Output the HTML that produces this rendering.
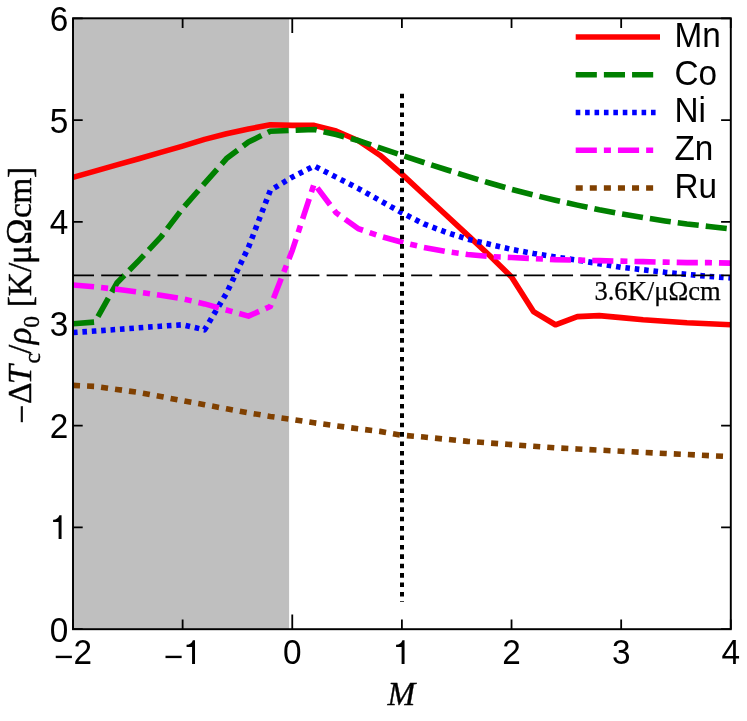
<!DOCTYPE html><html><head><meta charset="utf-8"><style>html,body{margin:0;padding:0;background:#fff}svg{display:block}</style></head><body><svg width="747" height="721" viewBox="0 0 747 721">
<rect width="747" height="721" fill="#fff"/>
<defs><filter id="f" x="0" y="0" width="747" height="721" filterUnits="userSpaceOnUse" color-interpolation-filters="sRGB"><feOffset dx="0" dy="0"/></filter></defs>
<rect x="73.0" y="18.3" width="216.10000000000002" height="610.9000000000001" fill="#bfbfbf"/>
<clipPath id="c"><rect x="73.0" y="18.3" width="657.8" height="610.9000000000001"/></clipPath>
<path d="M73.00,629.2 v-9.7 M73.00,18.3 v9.7" stroke="#000" stroke-width="1.8" fill="none"/>
<path d="M182.63,629.2 v-9.7 M182.63,18.3 v9.7" stroke="#000" stroke-width="1.8" fill="none"/>
<path d="M292.27,629.2 v-14.6 M292.27,18.3 v14.6" stroke="#000" stroke-width="1.8" fill="none"/>
<path d="M401.90,629.2 v-9.7 M401.90,18.3 v9.7" stroke="#000" stroke-width="1.8" fill="none"/>
<path d="M511.53,629.2 v-9.7 M511.53,18.3 v9.7" stroke="#000" stroke-width="1.8" fill="none"/>
<path d="M621.17,629.2 v-9.7 M621.17,18.3 v9.7" stroke="#000" stroke-width="1.8" fill="none"/>
<path d="M730.80,629.2 v-9.7 M730.80,18.3 v9.7" stroke="#000" stroke-width="1.8" fill="none"/>
<path d="M73.0,629.20 h9.7 M730.8,629.20 h-9.7" stroke="#000" stroke-width="1.8" fill="none"/>
<path d="M73.0,527.38 h9.7 M730.8,527.38 h-9.7" stroke="#000" stroke-width="1.8" fill="none"/>
<path d="M73.0,425.57 h9.7 M730.8,425.57 h-9.7" stroke="#000" stroke-width="1.8" fill="none"/>
<path d="M73.0,323.75 h9.7 M730.8,323.75 h-9.7" stroke="#000" stroke-width="1.8" fill="none"/>
<path d="M73.0,221.93 h9.7 M730.8,221.93 h-9.7" stroke="#000" stroke-width="1.8" fill="none"/>
<path d="M73.0,120.12 h9.7 M730.8,120.12 h-9.7" stroke="#000" stroke-width="1.8" fill="none"/>
<path d="M73.0,18.30 h9.7 M730.8,18.30 h-9.7" stroke="#000" stroke-width="1.8" fill="none"/>
<g clip-path="url(#c)" fill="none" stroke-linejoin="round">
<path d="M73.00,177.34 L94.93,171.13 L116.85,164.92 L138.78,158.71 L160.71,152.39 L182.63,146.08 L204.56,139.36 L226.49,133.76 L248.41,128.97 L270.34,124.80 L292.27,125.41 L314.19,125.41 L336.12,131.01 L358.05,140.48 L379.97,155.24 L401.90,174.08 L423.83,194.44 L445.75,214.81 L467.68,235.17 L489.61,255.53 L511.53,276.91 L533.46,311.53 L555.39,324.77 L577.31,316.62 L599.24,315.60 L621.17,317.64 L643.09,319.68 L665.02,321.20 L686.95,322.73 L708.87,323.75 L730.80,324.77" stroke="#ff0000" stroke-width="5.6"/>
<path d="M73.00,323.75 L94.93,322.02 L116.85,283.02 L138.78,260.62 L160.71,237.21 L182.63,208.49 L204.56,183.45 L226.49,158.60 L248.41,142.01 L270.34,131.21 L292.27,130.30 L314.19,129.48 L336.12,134.57 L358.05,140.48 L379.97,147.81 L401.90,155.24 L423.83,162.47 L445.75,169.50 L467.68,176.42 L489.61,183.04 L511.53,189.35 L533.46,194.95 L555.39,200.25 L577.31,205.13 L599.24,209.72 L621.17,213.79 L643.09,217.56 L665.02,220.92 L686.95,223.97 L708.87,226.52 L730.80,228.86" stroke="#008000" stroke-width="5.6" stroke-dasharray="21.14 7.04"/>
<path d="M73.00,332.51 L94.93,331.08 L116.85,329.45 L138.78,327.82 L160.71,326.19 L182.63,324.77 L204.56,329.86 L226.49,293.20 L248.41,247.39 L270.34,190.37 L292.27,177.13 L314.19,165.93 L336.12,177.13 L358.05,188.33 L379.97,200.55 L401.90,212.77 L423.83,223.97 L445.75,232.12 L467.68,239.24 L489.61,244.33 L511.53,249.42 L533.46,253.50 L555.39,257.06 L577.31,260.11 L599.24,263.68 L621.17,267.24 L643.09,269.79 L665.02,272.33 L686.95,274.37 L708.87,276.41 L730.80,277.93" stroke="#0000ff" stroke-width="5.6" stroke-dasharray="4.6 4.81"/>
<path d="M73.00,285.06 L94.93,286.89 L116.85,289.34 L138.78,292.19 L160.71,295.24 L182.63,298.80 L204.56,303.90 L226.49,310.00 L248.41,316.11 L270.34,306.44 L292.27,250.44 L314.19,183.75 L336.12,212.77 L358.05,228.55 L379.97,236.19 L401.90,242.30 L423.83,247.39 L445.75,251.46 L467.68,254.51 L489.61,256.55 L511.53,257.57 L533.46,258.59 L555.39,259.61 L577.31,260.11 L599.24,260.62 L621.17,261.13 L643.09,261.64 L665.02,262.15 L686.95,262.66 L708.87,262.66 L730.80,263.17" stroke="#ff00ff" stroke-width="5.6" stroke-dasharray="21.14 7.04 7.04 7.04"/>
<path d="M73.00,385.35 L94.93,386.37 L116.85,389.42 L138.78,392.48 L160.71,396.55 L182.63,400.62 L204.56,404.69 L226.49,408.77 L248.41,412.84 L270.34,416.40 L292.27,419.46 L314.19,422.82 L336.12,425.77 L358.05,428.82 L379.97,431.37 L401.90,435.24 L423.83,437.07 L445.75,439.21 L467.68,441.35 L489.61,442.98 L511.53,444.61 L533.46,446.24 L555.39,447.86 L577.31,448.98 L599.24,450.10 L621.17,451.22 L643.09,452.34 L665.02,453.46 L686.95,454.48 L708.87,455.60 L730.80,456.62" stroke="#804000" stroke-width="5.6" stroke-dasharray="7.04 7.04"/>
<path d="M73.0,275.3 L730.8,275.3" stroke="#000" stroke-width="1.8" stroke-dasharray="21.0 7.18"/>
<path d="M402,93.7 L402,602" stroke="#000" stroke-width="4" stroke-dasharray="4.6 4.80"/>
</g>
<rect x="73.0" y="18.3" width="657.8" height="610.9000000000001" fill="none" stroke="#000" stroke-width="1.95"/>
<g filter="url(#f)">
<g font-family="Liberation Sans, sans-serif" font-size="33.33" fill="#000">
<text x="54.00" y="668.00">−</text>
<text transform="translate(73.47,664.2) scale(1,1.06)">2</text>
<text x="163.64" y="668.00">−</text>
<path fill="#000" d="M195.02,664.00 L192.07,664.00 L192.07,647.00 L186.57,647.00 L186.57,644.70 C189.77,644.60 191.87,643.20 192.87,640.20 L195.02,640.20 Z"/>
<text transform="translate(292.27,664.2) scale(1,1.06)" text-anchor="middle">0</text>
<path fill="#000" d="M404.55,664.00 L401.60,664.00 L401.60,647.00 L396.10,647.00 L396.10,644.70 C399.30,644.60 401.40,643.20 402.40,640.20 L404.55,640.20 Z"/>
<text transform="translate(511.53,664.2) scale(1,1.06)" text-anchor="middle">2</text>
<text transform="translate(621.17,664.2) scale(1,1.06)" text-anchor="middle">3</text>
<text transform="translate(730.80,664.2) scale(1,1.06)" text-anchor="middle">4</text>
<text transform="translate(68.4,641.60) scale(1,1.06)" text-anchor="end">0</text>
<path fill="#000" d="M61.55,538.98 L58.60,538.98 L58.60,521.98 L53.10,521.98 L53.10,519.68 C56.30,519.58 58.40,518.18 59.40,515.18 L61.55,515.18 Z"/>
<text transform="translate(68.4,437.97) scale(1,1.06)" text-anchor="end">2</text>
<text transform="translate(68.4,336.15) scale(1,1.06)" text-anchor="end">3</text>
<text transform="translate(68.4,234.33) scale(1,1.06)" text-anchor="end">4</text>
<text transform="translate(68.4,132.52) scale(1,1.06)" text-anchor="end">5</text>
<text transform="translate(68.4,30.70) scale(1,1.06)" text-anchor="end">6</text>
<text transform="translate(674.4,46.80) scale(1,1.035)">Mn</text>
<text transform="translate(674.4,84.50) scale(1,1.035)">Co</text>
<text transform="translate(674.4,122.20) scale(1,1.035)">Ni</text>
<text transform="translate(674.4,159.90) scale(1,1.035)">Zn</text>
<text transform="translate(674.4,197.60) scale(1,1.035)">Ru</text>
</g>
<path d="M575.7,37.05 L660.0,37.05" stroke="#ff0000" stroke-width="5.6" fill="none"/>
<path d="M575.7,74.77 L660.0,74.77" stroke="#008000" stroke-width="5.6" fill="none" stroke-dasharray="21.14 7.04"/>
<path d="M575.7,112.49 L660.0,112.49" stroke="#0000ff" stroke-width="5.6" fill="none" stroke-dasharray="4.6 4.81"/>
<path d="M575.7,150.21 L660.0,150.21" stroke="#ff00ff" stroke-width="5.6" fill="none" stroke-dasharray="21.14 7.04 7.04 7.04"/>
<path d="M575.7,187.93 L660.0,187.93" stroke="#804000" stroke-width="5.6" fill="none" stroke-dasharray="7.04 7.04"/>
<text x="594.4" y="300.4" font-family="Liberation Serif, serif" font-size="26.6" fill="#000" stroke="#000" stroke-width="0.25">3.6K/μΩcm</text>
<text x="401.35" y="704.9" text-anchor="middle" font-family="Liberation Serif, serif" font-style="italic" font-size="33.33" fill="#000" stroke="#000" stroke-width="0.35">M</text>
<g transform="translate(31,423.0) rotate(-90)" font-family="Liberation Serif, serif" font-size="33.5" fill="#000" stroke="#000" stroke-width="0.35"><text id="yl" x="0" y="0"><tspan dy="2" dx="-0.6">−</tspan><tspan dy="-2" dx="0.6">Δ</tspan><tspan font-style="italic" dx="-1.6" font-size="34.5">T</tspan><tspan font-size="23.5" dy="9" dx="1.4">c</tspan><tspan dy="-9" dx="-1.0">/</tspan><tspan font-style="italic" dx="0.6" font-size="35">ρ</tspan><tspan font-size="23.5" dy="7.5" dx="-0.3">0</tspan><tspan dy="-7.5" dx="8.58">[K/</tspan><tspan dx="-1.6" font-size="36">μ</tspan><tspan dx="0.3" font-size="35.5">Ω</tspan><tspan dx="0.2">c</tspan><tspan dx="-0.6">m</tspan><tspan dx="-0.2">]</tspan></text></g>
</g>
</svg></body></html>
